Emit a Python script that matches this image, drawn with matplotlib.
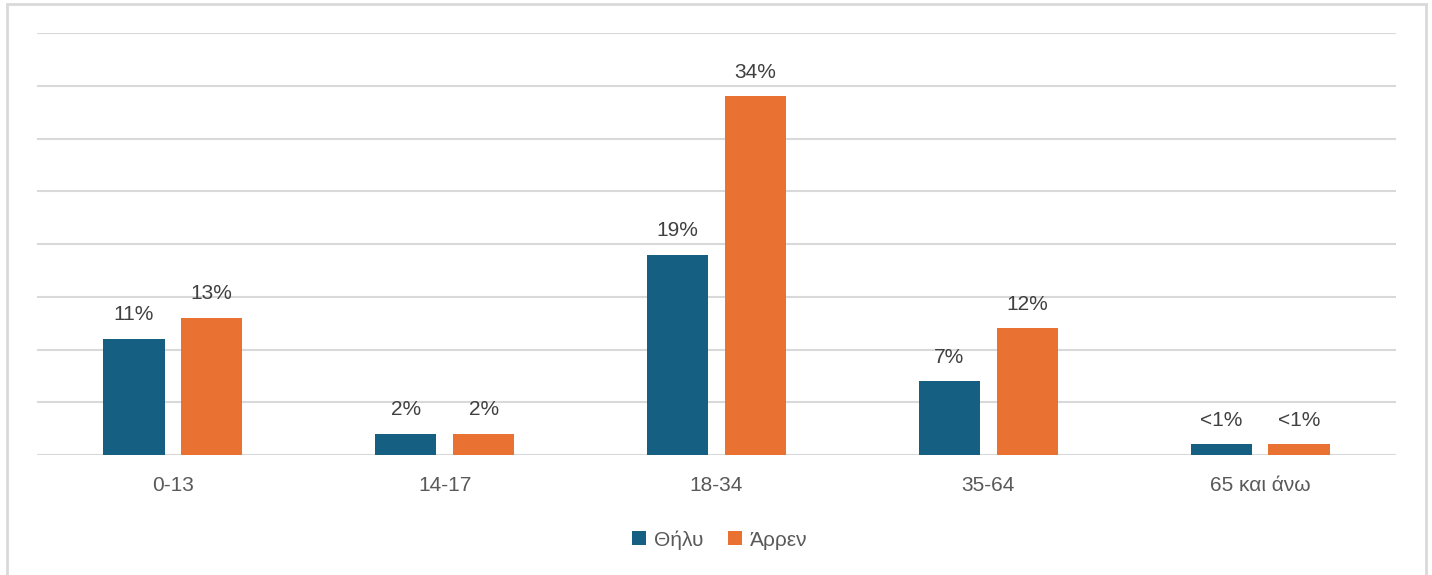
import numpy as np
import matplotlib
matplotlib.use("Agg")
import matplotlib.pyplot as plt
from matplotlib.patches import Rectangle

plt.rcParams['font.family'] = ['Liberation Sans', 'DejaVu Sans']

categories = ["0-13", "14-17", "18-34", "35-64", "65 και άνω"]
female = [11, 2, 19, 7, 1]
male = [13, 2, 34, 12, 1]
female_labels = ["11%", "2%", "19%", "7%", "<1%"]
male_labels = ["13%", "2%", "34%", "12%", "<1%"]
series_names = ["Θήλυ", "Άρρεν"]

blue = "#156082"
orange = "#E97132"
grid_col = "#d9d9d9"
text_col = "#404040"

W, H = 1432, 575
fig = plt.figure(figsize=(W / 100, H / 100), dpi=100)
ax = fig.add_axes([37 / W, 1 - 455 / H, (1396 - 37) / W, (455 - 33) / H])

x = np.arange(len(categories))
bw = 0.225
off = 0.143
b1 = ax.bar(x - off, female, bw, color=blue, label=series_names[0], zorder=3)
b2 = ax.bar(x + off, male, bw, color=orange, label=series_names[1], zorder=3)

for bars, labels in [(b1, female_labels), (b2, male_labels)]:
    for rect, lab in zip(bars, labels):
        ax.annotate(lab, (rect.get_x() + rect.get_width() / 2, rect.get_height()),
                    xytext=(0, 10.5), textcoords="offset points",
                    ha="center", va="bottom", fontsize=15, color=text_col)

ax.set_xlim(-0.5, len(categories) - 0.5)
ax.set_ylim(0, 40)
ax.set_yticks(np.arange(0, 41, 5))
ax.yaxis.grid(True, color=grid_col, linewidth=1.5, zorder=0)
ax.tick_params(axis="y", left=False, labelleft=False)
ax.set_xticks(x)
ax.set_xticklabels(categories, fontsize=15, color="#595959")
ax.tick_params(axis="x", length=0, pad=15)
for s in ax.spines.values():
    s.set_visible(False)

leg = fig.legend(loc="center", bbox_to_anchor=(720 / W, 1 - 540 / H), ncol=2,
                 frameon=False, fontsize=15, handlelength=0.65, handleheight=0.65,
                 handletextpad=0.4, columnspacing=1.2)
for t in leg.get_texts():
    t.set_color("#595959")

fig.patches.append(Rectangle((7 / W, -0.1), (1426 - 7) / W, 1.1 - 4 / H,
                             transform=fig.transFigure, fill=False,
                             edgecolor=grid_col, linewidth=2))

fig.savefig("out.png", dpi=100)
